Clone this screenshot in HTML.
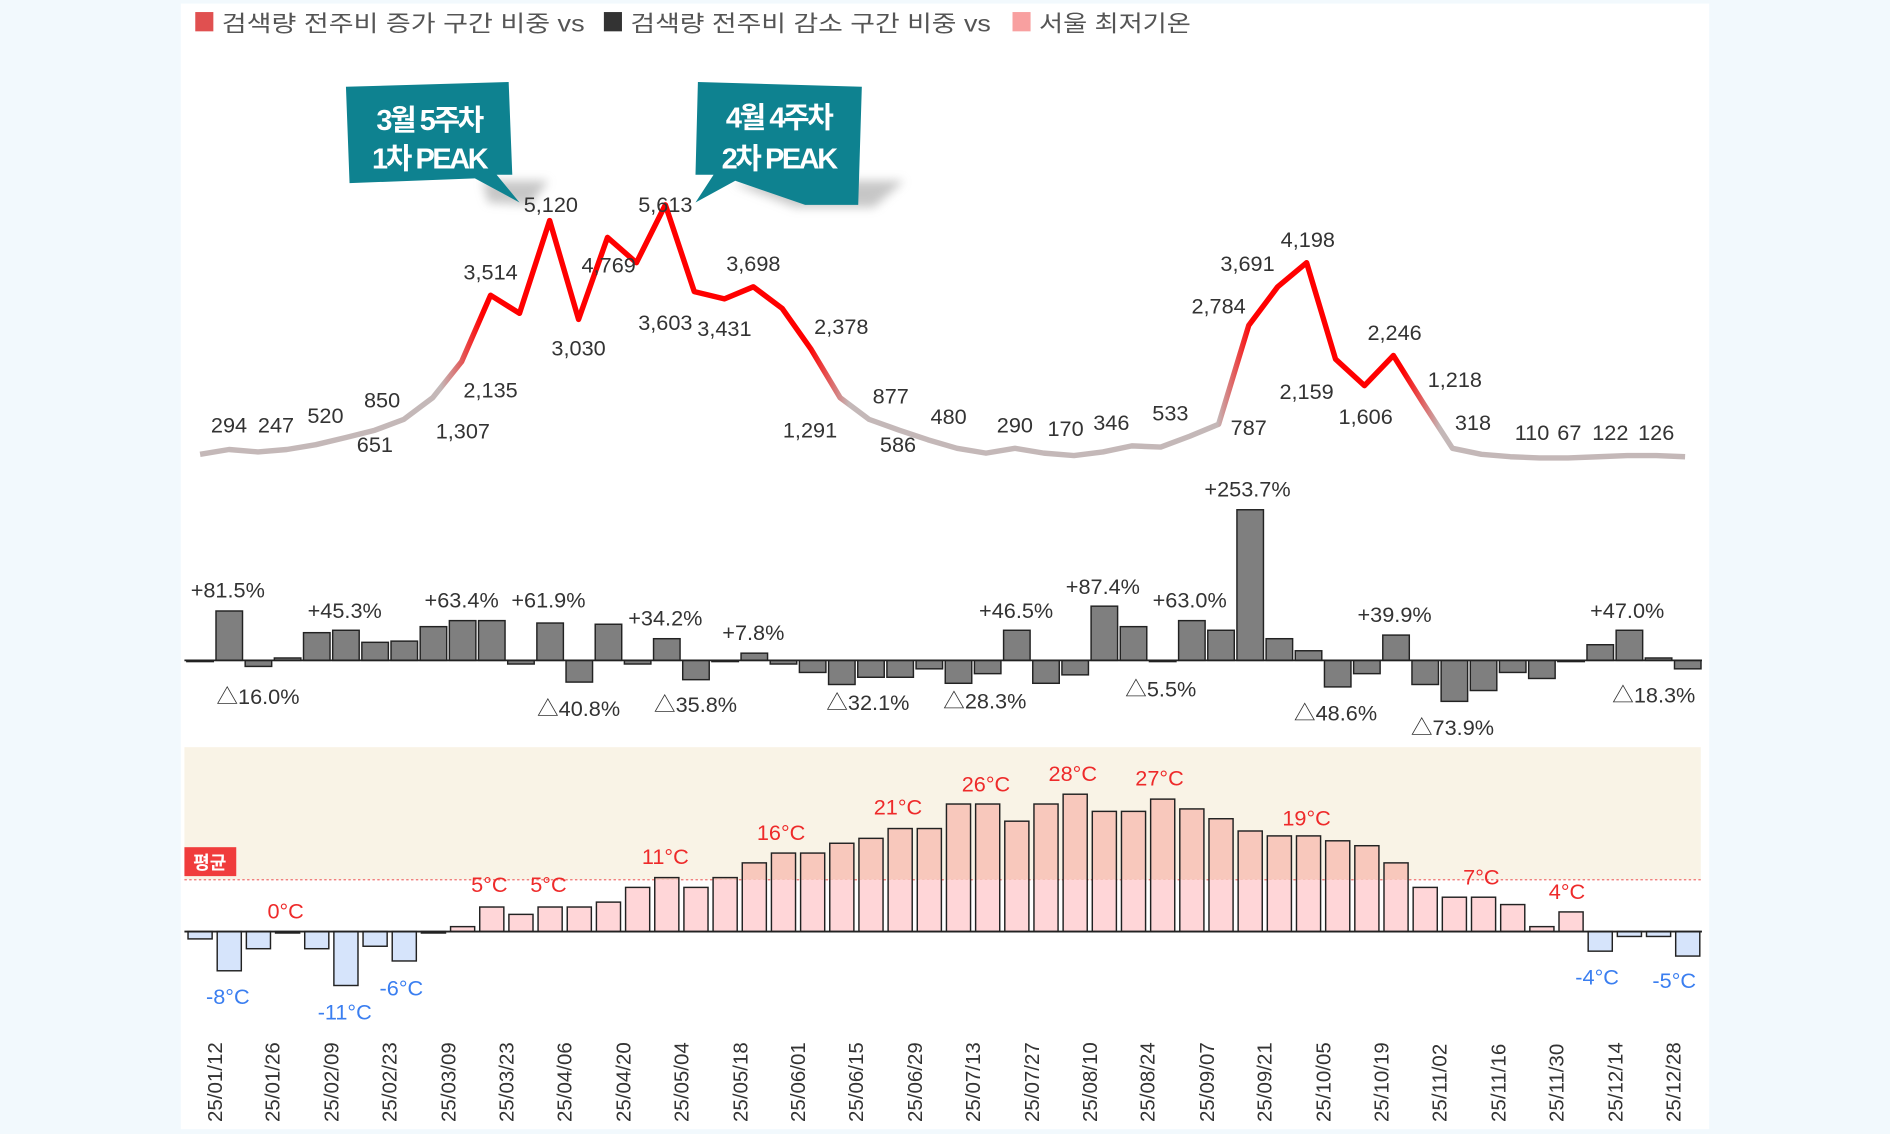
<!DOCTYPE html>
<html><head><meta charset="utf-8"><style>
html,body{margin:0;padding:0;background:#f2f9fd;}
svg{display:block;}
text{font-family:"Liberation Sans","Noto Sans CJK KR",sans-serif;}
</style></head><body>
<svg id="s" width="1890" height="1134" viewBox="0 0 1568 941" preserveAspectRatio="none" xmlns="http://www.w3.org/2000/svg">
<defs>
<linearGradient id="lg" gradientUnits="userSpaceOnUse" x1="166" y1="0" x2="1398" y2="0">
<stop offset="0" stop-color="#c4b8b8"/><stop offset="0.162" stop-color="#c4b8b8"/><stop offset="0.19" stop-color="#ff0000"/>
<stop offset="0.41" stop-color="#ff0000"/><stop offset="0.437" stop-color="#c4b8b8"/><stop offset="0.685" stop-color="#c4b8b8"/>
<stop offset="0.708" stop-color="#ff0000"/><stop offset="0.81" stop-color="#ff0000"/><stop offset="0.835" stop-color="#c4b8b8"/><stop offset="1" stop-color="#c4b8b8"/>
</linearGradient>
<filter id="bl" x="-20%" y="-50%" width="140%" height="200%"><feGaussianBlur stdDeviation="4"/></filter>
</defs>
<rect x="150" y="3" width="1268" height="934" fill="#fff"/>
<!-- legend -->
<rect x="162" y="10" width="15" height="16" fill="#e05050"/>
<text x="184" y="26" font-size="19" fill="#555" textLength="301" lengthAdjust="spacingAndGlyphs">검색량 전주비 증가 구간 비중  vs</text>
<rect x="501" y="10" width="15" height="16" fill="#333"/>
<text x="523" y="26" font-size="19" fill="#555" textLength="299" lengthAdjust="spacingAndGlyphs">검색량 전주비 감소 구간 비중  vs</text>
<rect x="840" y="10" width="15" height="16" fill="#f8a0a0"/>
<text x="862" y="26" font-size="19" fill="#555" textLength="126" lengthAdjust="spacingAndGlyphs">서울 최저기온</text>
<!-- callouts -->
<polygon points="400,150 455,150 440,170 405,168" fill="#999" opacity="0.55" filter="url(#bl)"/>
<polygon points="608,152 660,150 750,150 725,172 660,172" fill="#999" opacity="0.55" filter="url(#bl)"/>
<polygon points="287,72 422,68 425,145 412,145 431,168 394,148 290,152" fill="#0e8290"/>
<text x="356" y="108" font-size="24" font-weight="bold" fill="#fff" text-anchor="middle" letter-spacing="-2">3월 5주차</text>
<text x="356" y="140" font-size="24" font-weight="bold" fill="#fff" text-anchor="middle" letter-spacing="-2">1차 PEAK</text>
<polygon points="579,68 715,72 712,170 668,170 610,150 577,168 592,145 577,145" fill="#0e8290"/>
<text x="646" y="106" font-size="24" font-weight="bold" fill="#fff" text-anchor="middle" letter-spacing="-2">4월 4주차</text>
<text x="646" y="140" font-size="24" font-weight="bold" fill="#fff" text-anchor="middle" letter-spacing="-2">2차 PEAK</text>
<!-- line -->
<polyline fill="none" stroke="url(#lg)" stroke-width="4.5" stroke-linejoin="round" points="166,377 190,373 214,375 238,373 262,369 287,363 311,357 335,348 359,330 383,300 407,245 431,260 456,183 480,265 504,197 528,218 552,170 576,242 601,248 625,238 649,256 673,290 697,330 721,348 746,357 770,365 794,372 818,376 842,372 866,376 891,378 915,375 939,370 963,371 987,362 1011,352 1036,270 1060,238 1084,218 1108,298 1132,320 1156,295 1181,335 1205,372 1229,377 1253,379 1277,380 1301,380 1326,379 1350,378 1374,378 1398,379"/>
<g font-size="18" fill="#333" text-anchor="middle">
<text x="190" y="359">294</text><text x="229" y="359">247</text><text x="270" y="351">520</text><text x="311" y="375">651</text><text x="317" y="338">850</text>
<text x="384" y="364">1,307</text><text x="407" y="330">2,135</text><text x="407" y="232">3,514</text><text x="457" y="176">5,120</text>
<text x="480" y="295">3,030</text><text x="505" y="226">4,769</text><text x="552" y="176">5,613</text><text x="552" y="274">3,603</text>
<text x="601" y="279">3,431</text><text x="625" y="225">3,698</text><text x="698" y="277">2,378</text><text x="672" y="363">1,291</text>
<text x="739" y="335">877</text><text x="745" y="375">586</text><text x="787" y="352">480</text><text x="842" y="359">290</text>
<text x="884" y="362">170</text><text x="922" y="357">346</text><text x="971" y="349">533</text><text x="1036" y="361">787</text>
<text x="1011" y="260">2,784</text><text x="1035" y="225">3,691</text><text x="1085" y="205">4,198</text><text x="1084" y="331">2,159</text>
<text x="1133" y="352">1,606</text><text x="1157" y="282">2,246</text><text x="1207" y="321">1,218</text><text x="1222" y="357">318</text>
<text x="1271" y="365">110</text><text x="1302" y="365">67</text><text x="1336" y="365">122</text><text x="1374" y="365">126</text>
</g>
<!-- pct bars -->
<g id="pb" fill="#7f7f7f" stroke="#222" stroke-width="1.2"></g>
<line x1="153" y1="548" x2="1412" y2="548" stroke="#222" stroke-width="1.5"/>
<g font-size="18" fill="#333" text-anchor="middle">
<text x="189" y="496">+81.5%</text><text x="214" y="584">△16.0%</text><text x="286" y="513">+45.3%</text><text x="383" y="504">+63.4%</text>
<text x="455" y="504">+61.9%</text><text x="480" y="594">△40.8%</text><text x="552" y="519">+34.2%</text><text x="577" y="591">△35.8%</text>
<text x="625" y="531">+7.8%</text><text x="720" y="589">△32.1%</text><text x="817" y="588">△28.3%</text><text x="843" y="513">+46.5%</text>
<text x="915" y="493">+87.4%</text><text x="987" y="504">+63.0%</text><text x="963" y="578">△5.5%</text><text x="1035" y="412">+253.7%</text>
<text x="1108" y="598">△48.6%</text><text x="1157" y="516">+39.9%</text><text x="1205" y="610">△73.9%</text><text x="1350" y="513">+47.0%</text>
<text x="1372" y="583">△18.3%</text>
</g>
<!-- temp panel -->
<rect x="153" y="620" width="1258" height="110" fill="#f9f3e6"/>
<line x1="153" y1="730" x2="1411" y2="730" stroke="#f07070" stroke-width="1" stroke-dasharray="2,2"/>
<rect x="153" y="703" width="43" height="24" fill="#f03c3c"/>
<text x="174" y="721" font-size="15" font-weight="bold" fill="#fff" text-anchor="middle">평균</text>
<g id="tb" stroke="#222" stroke-width="1.2"></g>
<line x1="153" y1="773" x2="1412" y2="773" stroke="#222" stroke-width="1.5"/>
<g font-size="18" fill="#ee2a2a" text-anchor="middle">
<text x="237" y="762">0°C</text><text x="406" y="740">5°C</text><text x="455" y="740">5°C</text><text x="552" y="717">11°C</text>
<text x="648" y="697">16°C</text><text x="745" y="676">21°C</text><text x="818" y="657">26°C</text><text x="890" y="648">28°C</text>
<text x="962" y="652">27°C</text><text x="1084" y="685">19°C</text><text x="1229" y="734">7°C</text><text x="1300" y="746">4°C</text>
</g>
<g font-size="18" fill="#3a7ef0" text-anchor="middle">
<text x="189" y="833">-8°C</text><text x="286" y="846">-11°C</text><text x="333" y="826">-6°C</text><text x="1325" y="817">-4°C</text><text x="1389" y="820">-5°C</text>
</g>
<!-- x labels -->
<g font-size="17" fill="#333">
<text transform="translate(184,931) rotate(-90)">25/01/12</text>
<text transform="translate(232,931) rotate(-90)">25/01/26</text>
<text transform="translate(281,931) rotate(-90)">25/02/09</text>
<text transform="translate(329,931) rotate(-90)">25/02/23</text>
<text transform="translate(378,931) rotate(-90)">25/03/09</text>
<text transform="translate(426,931) rotate(-90)">25/03/23</text>
<text transform="translate(474,931) rotate(-90)">25/04/06</text>
<text transform="translate(523,931) rotate(-90)">25/04/20</text>
<text transform="translate(571,931) rotate(-90)">25/05/04</text>
<text transform="translate(620,931) rotate(-90)">25/05/18</text>
<text transform="translate(668,931) rotate(-90)">25/06/01</text>
<text transform="translate(716,931) rotate(-90)">25/06/15</text>
<text transform="translate(765,931) rotate(-90)">25/06/29</text>
<text transform="translate(813,931) rotate(-90)">25/07/13</text>
<text transform="translate(862,931) rotate(-90)">25/07/27</text>
<text transform="translate(910,931) rotate(-90)">25/08/10</text>
<text transform="translate(958,931) rotate(-90)">25/08/24</text>
<text transform="translate(1007,931) rotate(-90)">25/09/07</text>
<text transform="translate(1055,931) rotate(-90)">25/09/21</text>
<text transform="translate(1104,931) rotate(-90)">25/10/05</text>
<text transform="translate(1152,931) rotate(-90)">25/10/19</text>
<text transform="translate(1200,931) rotate(-90)">25/11/02</text>
<text transform="translate(1249,931) rotate(-90)">25/11/16</text>
<text transform="translate(1297,931) rotate(-90)">25/11/30</text>
<text transform="translate(1346,931) rotate(-90)">25/12/14</text>
<text transform="translate(1394,931) rotate(-90)">25/12/28</text>
</g>
</svg>
<script>
(function(){
var NS="http://www.w3.org/2000/svg";
function X(i){return 166+24.2*i;}
var p=[549,507,553,546,525,523,533,532,520,515,515,551,517,566,518,551,530,564,549,542,551,558,568,562,562,555,567,559,523,567,560,503,520,549,515,523,423,530,540,570,559,527,568,582,573,558,563,549,535,523,546,555];
var g=document.getElementById("pb");
p.forEach(function(v,i){var r=document.createElementNS(NS,"rect");var y=Math.min(v,548),h=Math.max(Math.abs(v-548),1);
r.setAttribute("x",X(i)-11);r.setAttribute("y",y);r.setAttribute("width",22);r.setAttribute("height",h);g.appendChild(r);});
var t=[-1.5,-8,-3.5,-0.3,-3.5,-11,-3,-6,-0.3,1,5,3.5,5,5,6,9,11,9,11,14,16,16,18,19,21,21,26,26,22.5,26,28,24.5,24.5,27,25,23,20.5,19.5,19.5,18.5,17.5,14,9,7,7,5.5,1,4,-4,-1,-1,-5];
var tg=document.getElementById("tb");
t.forEach(function(v,i){var top=773-v*4.07;var y=Math.min(top,773),h=Math.max(Math.abs(773-top),1);
if(v>0&&top<730){var a=document.createElementNS(NS,"rect");a.setAttribute("x",X(i)-10);a.setAttribute("y",top);a.setAttribute("width",20);a.setAttribute("height",730-top);a.setAttribute("fill","#f8c8bc");a.setAttribute("stroke","none");tg.appendChild(a);
var b=document.createElementNS(NS,"rect");b.setAttribute("x",X(i)-10);b.setAttribute("y",730);b.setAttribute("width",20);b.setAttribute("height",43);b.setAttribute("fill","#ffd6d8");b.setAttribute("stroke","none");tg.appendChild(b);}
var r=document.createElementNS(NS,"rect");r.setAttribute("x",X(i)-10);r.setAttribute("y",y);r.setAttribute("width",20);r.setAttribute("height",h);
r.setAttribute("fill",v>0?(top<730?"none":"#ffd6d8"):"#d6e4fb");tg.appendChild(r);});
})();
</script>
</body></html>
